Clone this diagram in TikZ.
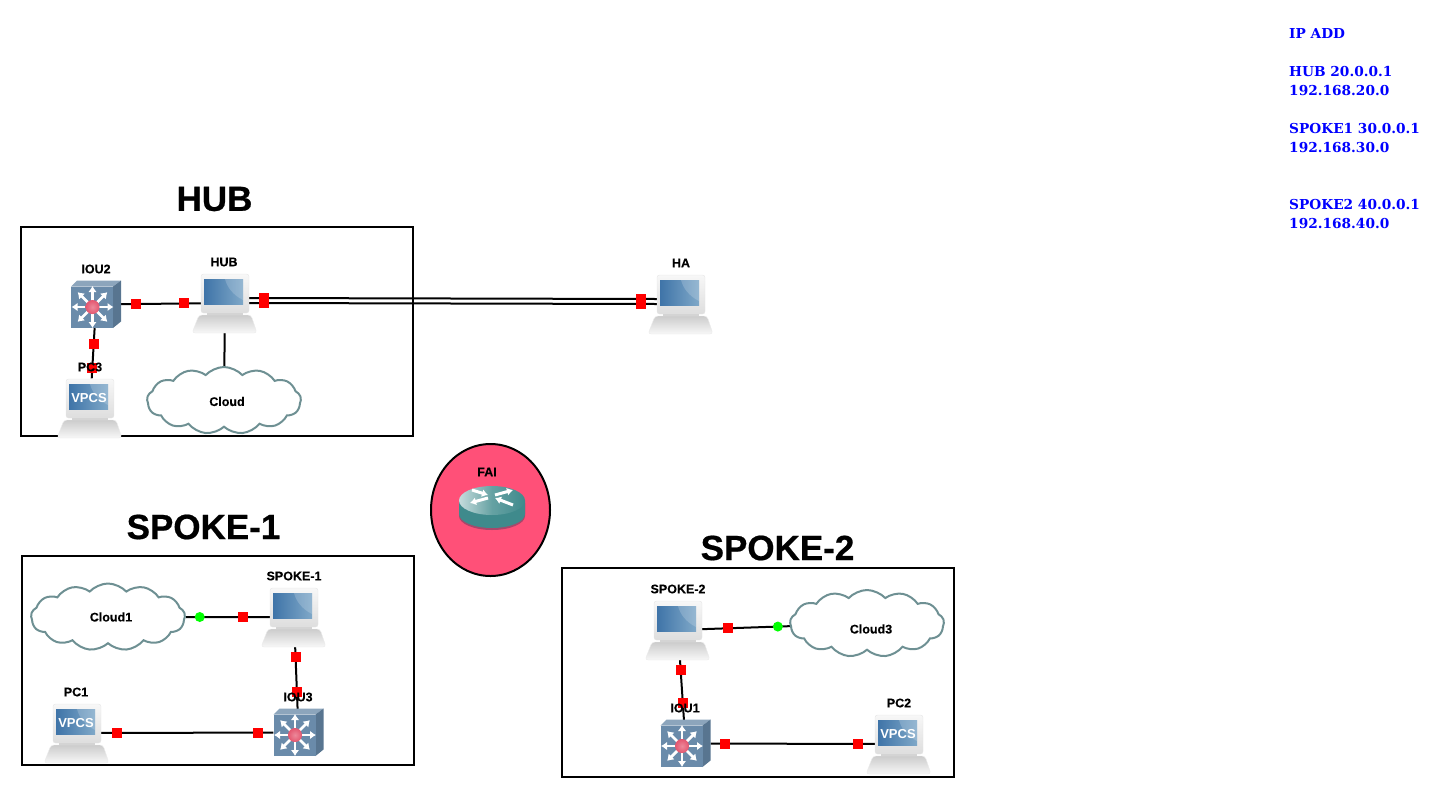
\documentclass[tikz,border=0pt]{standalone}
\usepackage{fontspec}
\setmainfont{Liberation Sans}
\newfontfamily\ipfont{DejaVu Serif}
\newfontfamily\headfont{Liberation Sans Bold}[FakeBold=0.6]
\newfontfamily\lblfont{Liberation Sans Bold}[FakeBold=0.25]
\usetikzlibrary{arrows.meta,shapes.symbols,shapes.geometric,backgrounds}
\definecolor{frameBlk}{HTML}{000000}
\definecolor{ipBlue}{HTML}{0000FF}
\definecolor{faiPink}{HTML}{FF5078}
\definecolor{cloudEdge}{HTML}{6E9093}
\definecolor{scrBlue}{HTML}{3F74A8}
\definecolor{scrLight}{HTML}{7FA8C8}
\definecolor{swFace}{HTML}{6A8BAA}
\definecolor{swTop}{HTML}{8CA5BC}
\definecolor{swSide}{HTML}{587590}
\definecolor{swDot}{HTML}{E4566F}
\definecolor{rtBody}{HTML}{3F8A8C}
\definecolor{rtShadow}{HTML}{A8476A}
\tikzset{
  pcicon/.pic={
    \fill[black!18] (-18,8) rectangle (18,14);
    \draw[draw=black!10,rounded corners=2.5pt,top color=black!3,bottom color=black!13] (-24,-29) rectangle (24,10);
    \fill[shading angle=60,left color=scrBlue,right color=scrLight] (-21,-24) rectangle (18,1);
    \fill[white,opacity=.18] (18,-24) -- (18,-3) .. controls (8,-8) and (2,-16) .. (0,-24) -- cycle;
    \draw[draw=black!8,rounded corners=3pt,top color=black!20,bottom color=black!3] (-26,12) -- (26,12) -- (32,30) -- (-33,30) -- cycle;
  },
  vpcsicon/.pic={
    \pic {pcicon};
    \node[vpcstxt] (-txt) at (-1,-10) {VPCS};
  },
  swicon/.pic={
    \fill[swTop] (-25,-18) -- (-19,-24) -- (25,-24) -- (17,-18) -- cycle;
    \fill[swSide] (17,-18) -- (25,-24) -- (25,17) -- (17,23.5) -- cycle;
    \fill[swFace] (-25,-18) rectangle (17,23.5);
    \foreach \ang in {0,45,...,315}
      \draw[white,line width=2.8pt,-{Latex[length=6pt,width=8.5pt]}] (-3.5,2.5) ++(\ang:6) -- ++(\ang:15);
    \shade[inner color=swDot!70!white,outer color=swDot] (-3.5,2.5) circle (7);
  },
  rticon/.pic={
    \fill[rtShadow] (-33,-4) -- (-33,9) arc[x radius=33,y radius=14,start angle=180,end angle=0] -- (33,-4) -- cycle;
    \fill[rtBody] (-33,-6.5) -- (-33,7) arc[x radius=33,y radius=14,start angle=180,end angle=0] -- (33,-6.5) -- cycle;
    \shade[left color=rtBody!30!white,right color=rtBody,middle color=rtBody!80!white] (0,-6.5) ellipse[x radius=33,y radius=14.5];
    \foreach \xa/\ya/\xb/\yb in {-20/-17/-4/-12, 3/-12/21/-17, -4/-9/-22/-4, 21/-2/3/-9}
      \draw[white,line width=3pt,-{Latex[length=6pt,width=8pt]}] (\xa,\ya) -- (\xb,\yb);
  }
}
\begin{document}
\begin{tikzpicture}[x=1pt,y=-1pt,
    lbl/.style={font=\lblfont\fontsize{12.5}{14}\selectfont,inner sep=0pt},
    head/.style={font=\headfont\fontsize{35}{40}\selectfont,inner sep=0pt},
    iptxt/.style={font=\ipfont\fontsize{13.7}{19}\selectfont\bfseries,text=ipBlue,align=left,anchor=north west,inner sep=0pt},
    vpcstxt/.style={font=\fontsize{13}{13}\selectfont\bfseries,text=white,inner sep=0pt},
    pcbox/.style={minimum width=48pt,minimum height=59pt,inner sep=0pt},
    swbox/.style={minimum width=50pt,minimum height=47pt,inner sep=0pt},
    cloudbox/.style={cloud,cloud puffs=13,cloud puff arc=95,cloud ignores aspect,draw=cloudEdge,fill=white,line width=2pt,minimum width=154pt,minimum height=67pt,inner sep=0pt},
    framebox/.style={draw=frameBlk,line width=2pt,minimum width=392pt,minimum height=209pt,inner sep=0pt},
    link/.style={draw=black,line width=2pt},
    port/.style={fill=red,minimum size=10pt,inner sep=0pt},
    oport/.style={circle,fill=green,minimum size=10pt,inner sep=0pt}]
  \useasboundingbox (0,0) rectangle (1439,798);
  \begin{pgfonlayer}{background}
    \node[framebox] (hubframe) at (217,331.5) {};
    \node[framebox] (sp1frame) at (218,660.5) {};
    \node[framebox] (sp2frame) at (758,672.5) {};
    \node[draw=black,line width=2pt,fill=faiPink,ellipse,minimum width=119pt,minimum height=132pt] (faibg) at (490.5,510) {};
  \end{pgfonlayer}
  % devices
  \node[swbox] (iou2) at (96,304.5) {};
  \node[pcbox] (hub) at (225,303) {};
  \node[pcbox] (pc3) at (90,408) {};
  \node[pcbox] (ha) at (681,304) {};
  \node[cloudbox] (cloud) at (224,400.5) {};
  \node[cloudbox] (cloud1) at (108,617) {};
  \node[cloudbox] (cloud3) at (867,623.5) {};
  \node[pcbox] (spoke1) at (294,617) {};
  \node[pcbox] (pc1) at (77,733) {};
  \node[swbox] (iou3) at (298.5,732.5) {};
  \node[pcbox] (spoke2) at (678,630) {};
  \node[swbox] (iou1) at (685.5,743.5) {};
  \node[pcbox] (pc2) at (899,744) {};
  \node[minimum width=66pt,minimum height=42pt,inner sep=0pt] (fai) at (492,507) {};
  \pic at (iou2) {swicon};
  \pic at (hub) {pcicon};
  \pic (pc3pic) at (pc3) {vpcsicon};
  \pic at (ha) {pcicon};
  \pic at (spoke1) {pcicon};
  \pic (pc1pic) at (pc1) {vpcsicon};
  \pic at (iou3) {swicon};
  \pic at (spoke2) {pcicon};
  \pic at (iou1) {swicon};
  \pic (pc2pic) at (pc2) {vpcsicon};
  \pic at (fai) {rticon};
  % links
  \begin{pgfonlayer}{background}
    \draw[link] (iou2) -- node[port,pos=.19] (p1) {} node[port,pos=.79] (p2) {} (hub);
    \draw[link] (iou2) -- node[port,pos=.32] (p3) {} node[port,pos=.8] (p4) {} (pc3);
    \draw[link] ([yshift=5pt]hub.east) -- node[port,pos=.037] (p5) {} node[port,pos=.961] (p6) {} ([yshift=5pt]ha.west);
    \draw[link] (hub.east) -- node[port,pos=.037] (p7) {} node[port,pos=.961] (p8) {} (ha.west);
    \draw[link] (hub) -- (cloud);
    \draw[link] (cloud1) -- node[oport,pos=.165] (g1) {} node[port,pos=.68] (p9) {} (spoke1);
    \draw[link] (spoke1) -- node[port,pos=.17] (p10) {} node[port,pos=.73] (p11) {} (iou3);
    \draw[link] (pc1) -- node[port,pos=.093] (p12) {} node[port,pos=.913] (p13) {} (iou3);
    \draw[link] (spoke2) -- node[port,pos=.295] (p14) {} node[oport,pos=.864] (g2) {} (cloud3);
    \draw[link] (spoke2) -- node[port,pos=.17] (p15) {} node[port,pos=.72] (p16) {} (iou1);
    \draw[link] (iou1) -- node[port,pos=.085] (p17) {} node[port,pos=.9] (p18) {} (pc2);
  \end{pgfonlayer}
  % labels
  \node[lbl] (iou2lbl) at (96,269) {IOU2};
  \node[lbl] (hublbl) at (224,262) {HUB};
  \node[lbl] (pc3lbl) at (90,367) {PC3};
  \node[lbl] (halbl) at (681,263) {HA};
  \node[lbl] (cloudlbl) at (227,401.5) {Cloud};
  \node[lbl] (failbl) at (487,472) {FAI};
  \node[lbl] (sp1lbl) at (294,576) {SPOKE-1};
  \node[lbl] (c1lbl) at (111,617) {Cloud1};
  \node[lbl] (pc1lbl) at (76,692) {PC1};
  \node[lbl] (iou3lbl) at (298,697) {IOU3};
  \node[lbl] (sp2lbl) at (678,589) {SPOKE-2};
  \node[lbl] (c3lbl) at (871,629) {Cloud3};
  \node[lbl] (iou1lbl) at (685,708) {IOU1};
  \node[lbl] (pc2lbl) at (899,703) {PC2};
  \node[head] (hubhead) at (214.5,199) {HUB};
  \node[head] (sp1head) at (203.5,527) {SPOKE-1};
  \node[head] (sp2head) at (777.5,548) {SPOKE-2};
  \node[iptxt] (iptable) at (1289,28.5) {IP ADD\\[19pt]HUB 20.0.0.1\\192.168.20.0\\[19pt]SPOKE1 30.0.0.1\\192.168.30.0\\[38pt]SPOKE2 40.0.0.1\\192.168.40.0};
\end{tikzpicture}
\end{document}
